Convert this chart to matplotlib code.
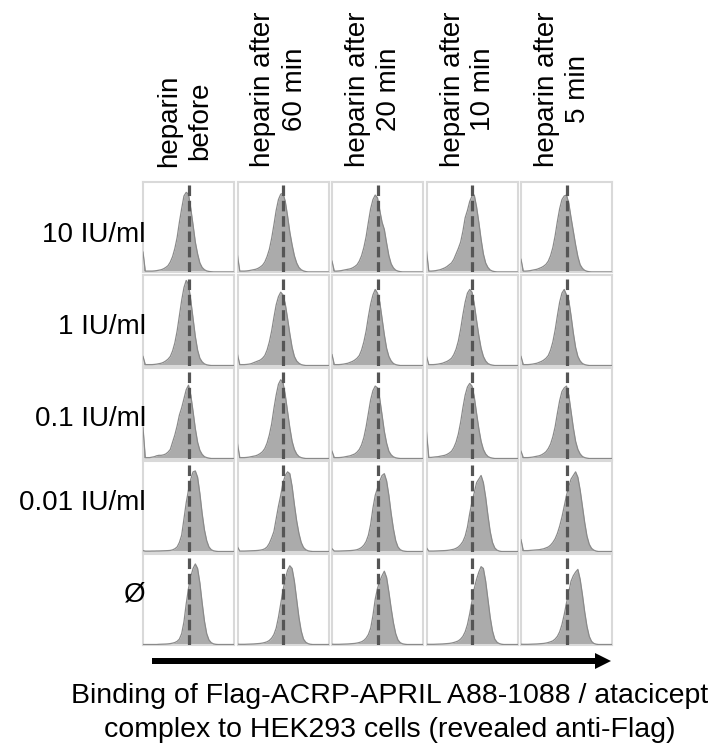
import numpy as np
import matplotlib
matplotlib.use("Agg")
import matplotlib.pyplot as plt
from matplotlib.patches import FancyArrow

plt.rcParams['font.family'] = ['Liberation Sans', 'DejaVu Sans']

# ---------------- data ----------------
row_labels = ["10 IU/ml", "1 IU/ml", "0.1 IU/ml", "0.01 IU/ml", "Ø"]
col_labels = ["heparin\nbefore", "heparin after\n60 min", "heparin after\n20 min",
              "heparin after\n10 min", "heparin after\n5 min"]
x_label = ("Binding of Flag-ACRP-APRIL A88-1088 / atacicept\n"
           "complex to HEK293 cells (revealed anti-Flag)")

# fluorescence bins (fraction of displayed range); reference (dashed) at 0.5
n_bins = 41
bin_step = 0.025
reference_level = 0.5

# normalised counts per bin for each cell (rows = heparin dose, cols = time)
r1c1 = [.22,.01,.01,.01,.01,.012,.015,.02,.025,.035,.05,.07,.11,.17,.26,.38,.55,.70,.84,.88,.86,.70,.52,.33,.20,.10,.05,.025,.012,.006,.003]
r1c2 = [.18,.01,.01,.01,.012,.015,.02,.025,.03,.04,.055,.075,.11,.17,.25,.37,.52,.68,.80,.86,.87,.78,.62,.44,.30,.18,.10,.05,.025,.012,.005]
r1c3 = [.12,.01,.01,.012,.015,.02,.025,.03,.035,.045,.06,.08,.12,.18,.27,.39,.55,.70,.80,.85,.82,.68,.55,.47,.32,.18,.09,.045,.02,.01,.004]
r1c4 = [.23,.01,.01,.012,.015,.02,.025,.035,.045,.06,.08,.10,.14,.20,.26,.33,.45,.60,.68,.78,.84,.85,.72,.55,.36,.20,.10,.05,.022,.01,.004]
r1c5 = [.14,.01,.01,.012,.015,.02,.025,.03,.04,.05,.065,.085,.12,.18,.27,.40,.56,.70,.80,.84,.85,.76,.60,.45,.30,.17,.08,.04,.018,.008,.003]

r2c1 = [.10,.01,.01,.01,.01,.012,.015,.02,.025,.035,.05,.07,.10,.16,.25,.38,.55,.72,.86,.94,.90,.72,.52,.32,.17,.08,.04,.018,.008,.003]
r2c2 = [.12,.01,.01,.01,.012,.015,.02,.03,.04,.05,.06,.08,.11,.17,.26,.38,.53,.67,.76,.81,.78,.68,.52,.35,.20,.10,.05,.025,.01,.004]
r2c3 = [.12,.01,.01,.01,.012,.015,.02,.025,.035,.045,.06,.08,.11,.17,.26,.38,.54,.68,.78,.84,.80,.70,.52,.34,.19,.10,.05,.022,.01,.004]
r2c4 = [.10,.01,.01,.01,.012,.015,.02,.025,.035,.045,.06,.08,.12,.18,.27,.40,.56,.70,.80,.84,.81,.68,.50,.33,.19,.10,.05,.022,.01,.004]
r2c5 = [.10,.01,.01,.01,.012,.015,.02,.025,.035,.045,.06,.08,.11,.17,.26,.39,.55,.70,.80,.84,.78,.72,.55,.36,.20,.10,.05,.022,.01,.004]

r3c1 = [.34,.01,.01,.01,.015,.02,.03,.035,.035,.04,.05,.07,.10,.18,.26,.36,.48,.56,.66,.76,.81,.70,.52,.33,.18,.09,.045,.02,.01,.004]
r3c2 = [.16,.01,.01,.01,.012,.015,.02,.025,.03,.04,.055,.075,.11,.17,.26,.38,.55,.70,.82,.87,.84,.70,.52,.34,.19,.10,.05,.022,.01,.004]
r3c3 = [.08,.01,.01,.01,.012,.015,.02,.025,.03,.04,.05,.07,.10,.15,.23,.35,.50,.65,.75,.80,.78,.66,.48,.30,.17,.08,.04,.018,.008,.003]
r3c4 = [.29,.012,.012,.015,.018,.02,.025,.03,.035,.045,.06,.08,.12,.18,.27,.40,.56,.70,.79,.83,.80,.68,.50,.33,.19,.10,.05,.022,.01,.004]
r3c5 = [.08,.01,.01,.01,.012,.015,.02,.025,.03,.04,.055,.075,.11,.16,.24,.35,.50,.64,.74,.78,.80,.70,.52,.34,.19,.10,.05,.022,.01,.004]

r4c1 = [.01,.004,.004,.004,.005,.005,.006,.006,.007,.008,.009,.01,.012,.018,.03,.05,.10,.18,.36,.54,.68,.80,.88,.89,.82,.64,.42,.24,.12,.05,.02,.008,.003]
r4c2 = [.05,.005,.005,.005,.006,.007,.008,.009,.01,.012,.015,.02,.03,.05,.09,.15,.22,.36,.50,.62,.76,.84,.88,.86,.72,.52,.34,.20,.10,.045,.02,.008,.003]
r4c3 = [.03,.005,.005,.005,.006,.007,.008,.009,.01,.012,.015,.02,.03,.045,.07,.11,.18,.30,.48,.62,.70,.78,.84,.86,.78,.62,.42,.25,.12,.05,.02,.008,.003]
r4c4 = [.04,.005,.005,.005,.006,.007,.008,.009,.01,.012,.015,.02,.025,.035,.05,.075,.11,.17,.27,.42,.55,.65,.76,.80,.84,.76,.60,.40,.22,.10,.04,.015,.005]
r4c5 = [.13,.01,.01,.01,.012,.014,.016,.018,.02,.025,.03,.04,.05,.07,.10,.14,.20,.28,.38,.50,.62,.72,.80,.84,.88,.82,.68,.50,.32,.17,.08,.035,.015,.005]

r5c1 = [0,0,0,0,0,0,0,.002,.003,.004,.005,.007,.01,.015,.022,.035,.06,.12,.25,.45,.62,.75,.84,.89,.84,.68,.46,.26,.12,.05,.02,.007,.002]
r5c2 = [.004,.002,.002,.002,.003,.004,.005,.006,.008,.01,.012,.016,.022,.03,.045,.07,.11,.18,.30,.45,.60,.72,.82,.87,.84,.70,.50,.30,.15,.06,.025,.01,.003]
r5c3 = [.003,.002,.002,.002,.003,.004,.005,.006,.008,.01,.012,.016,.022,.03,.045,.07,.11,.18,.32,.50,.62,.70,.76,.81,.74,.58,.40,.24,.12,.05,.02,.008,.003]
r5c4 = [.003,.002,.002,.002,.003,.004,.005,.006,.008,.01,.012,.016,.022,.03,.04,.06,.09,.14,.22,.34,.48,.62,.72,.80,.86,.84,.70,.50,.30,.15,.06,.025,.01,.003]
r5c5 = [.003,.002,.002,.002,.003,.004,.005,.006,.008,.01,.012,.016,.022,.03,.04,.06,.09,.14,.22,.33,.46,.58,.70,.76,.80,.83,.72,.55,.36,.20,.09,.035,.012,.004]

cells = [[r1c1, r1c2, r1c3, r1c4, r1c5],
         [r2c1, r2c2, r2c3, r2c4, r2c5],
         [r3c1, r3c2, r3c3, r3c4, r3c5],
         [r4c1, r4c2, r4c3, r4c4, r4c5],
         [r5c1, r5c2, r5c3, r5c4, r5c5]]

# ---------------- layout (pixels) ----------------
W, H = 715, 747
col_left = [143, 237.5, 332, 426.5, 521]
cell_w = 91
row_top = [181.5, 275, 368, 461, 554]
cell_h = 90.5
row_label_y = [235, 327, 419, 503, 595]

fill_c = '#ababab'
edge_c = '#8a8a8a'
frame_c = '#d9d9d9'
dash_c = '#555555'

fig = plt.figure(figsize=(W / 100, H / 100), dpi=100)

bins = np.arange(n_bins) * bin_step
for r in range(5):
    for c in range(5):
        counts = np.zeros(n_bins)
        vals = np.asarray(cells[r][c], dtype=float)
        counts[:len(vals)] = vals
        ax = fig.add_axes([col_left[c] / W, 1 - (row_top[r] + cell_h) / H,
                           cell_w / W, cell_h / H])
        ax.fill_between(bins, 0, counts, color=fill_c, linewidth=0, zorder=2)
        ax.plot(bins, counts, color=edge_c, linewidth=0.9, zorder=3)
        ax.plot([reference_level, reference_level], [0.96, 0.0], color=dash_c,
                linewidth=2.3, linestyle=(0, (3.3, 1.5)), zorder=4)
        ax.set_xlim(0, 1)
        ax.set_ylim(0, 1)
        ax.set_xticks([])
        ax.set_yticks([])
        for s in ax.spines.values():
            s.set_color(frame_c)
            s.set_linewidth(1.5)

# row labels
for r, lab in enumerate(row_labels):
    fig.text(146 / W, 1 - row_label_y[r] / H, lab, ha='right', va='center',
             fontsize=20, color='black')

# column headers
for c, lab in enumerate(col_labels):
    xc = col_left[c] + cell_w / 2 - 4
    fig.text(xc / W, 1 - 167 / H, lab, rotation=90, ha='center', va='bottom',
             multialignment='center', fontsize=20, linespacing=1.25,
             color='black')

# overlay for arrow and axis caption
ov = fig.add_axes([0, 0, 1, 1])
ov.set_xlim(0, W)
ov.set_ylim(H, 0)
ov.axis('off')
ov.add_patch(FancyArrow(152, 661, 459, 0, width=6, head_width=16,
                        head_length=16, length_includes_head=True,
                        color='black', linewidth=0))
ov.text(390, 683, x_label, ha='center', va='top', fontsize=20.5,
        linespacing=1.4, color='black')

fig.savefig('out.png', dpi=100)
